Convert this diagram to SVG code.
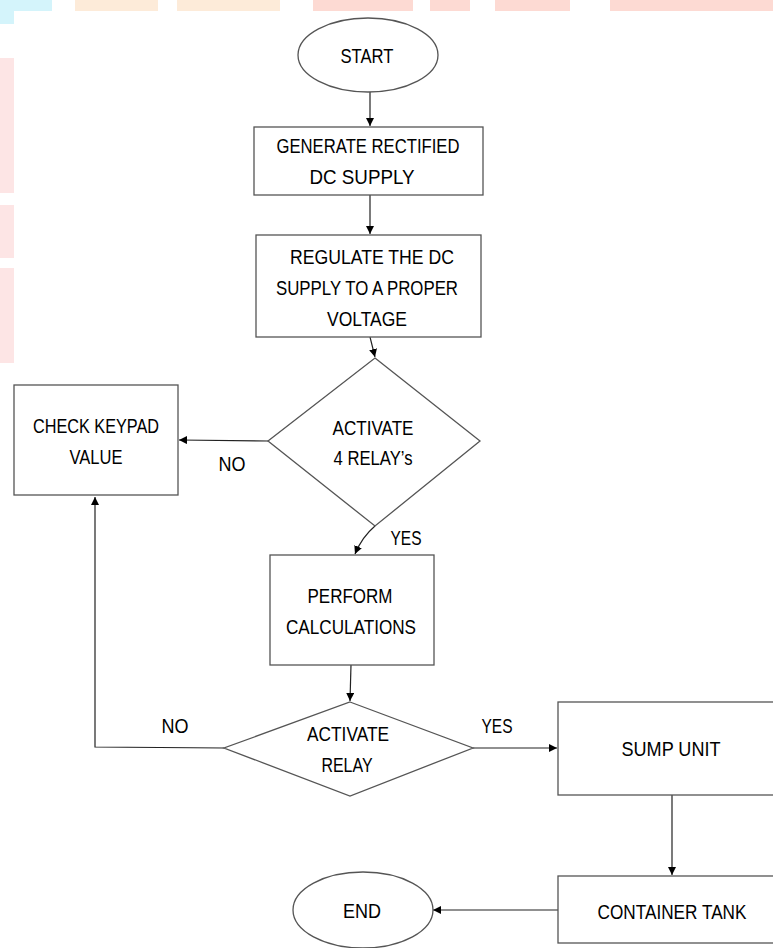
<svg xmlns="http://www.w3.org/2000/svg" width="773" height="948" viewBox="0 0 773 948">
<defs>
<marker id="ah" viewBox="0 0 10 10" refX="10" refY="5" markerWidth="8" markerHeight="8" markerUnits="userSpaceOnUse" orient="auto">
<path d="M0,0 L10,5 L0,10 z" fill="#000"/>
</marker>
<style>
.s{fill:#fff;stroke:#555;stroke-width:1.3}
.t{font-family:"Liberation Sans",Arial,sans-serif;font-size:21px;fill:#000;text-anchor:middle}
.c{fill:none;stroke:#222;stroke-width:1.2;marker-end:url(#ah)}
</style>
</defs>
<rect width="773" height="948" fill="#fff"/>
<g id="watermark">
<rect x="0" y="0" width="52" height="11" fill="#d4f4fb"/>
<rect x="0" y="0" width="14" height="24" fill="#d4f4fb"/>
<rect x="75" y="0" width="83" height="11" fill="#fdebd9"/>
<rect x="177" y="0" width="103" height="11" fill="#fdebd9"/>
<rect x="313" y="0" width="100" height="11" fill="#fddad3"/>
<rect x="430" y="0" width="40" height="11" fill="#fddad3"/>
<rect x="495" y="0" width="75" height="11" fill="#fddad3"/>
<rect x="610" y="0" width="163" height="11" fill="#fddad3"/>
<rect x="0" y="58" width="14" height="135" fill="#fde5e5"/>
<rect x="0" y="205" width="14" height="53" fill="#fde5e5"/>
<rect x="0" y="268" width="14" height="95" fill="#fde5e5"/>
</g>
<g id="connectors">
<line class="c" x1="370" y1="92" x2="370" y2="126"/>
<line class="c" x1="370" y1="195" x2="370" y2="234"/>
<line class="c" x1="370" y1="337" x2="375" y2="357"/>
<line class="c" x1="268" y1="441" x2="179" y2="440"/>
<path class="c" d="M375,526 Q362,537 355,554"/>
<line class="c" x1="351" y1="665" x2="350" y2="701"/>
<line class="c" x1="473" y1="748" x2="557" y2="748"/>
<polyline class="c" points="224,748 95,747 95,497"/>
<line class="c" x1="672" y1="795" x2="672" y2="875"/>
<line class="c" x1="558" y1="910" x2="433" y2="910"/>
<text class="t" x="232" y="471" textLength="27" lengthAdjust="spacingAndGlyphs">NO</text>
<text class="t" x="406" y="545" textLength="31" lengthAdjust="spacingAndGlyphs">YES</text>
<text class="t" x="497" y="733" textLength="31" lengthAdjust="spacingAndGlyphs">YES</text>
<text class="t" x="175" y="733" textLength="27" lengthAdjust="spacingAndGlyphs">NO</text>
</g>
<g id="start">
<ellipse class="s" cx="368" cy="55" rx="70" ry="37"/>
<text class="t" x="367" y="63" textLength="53" lengthAdjust="spacingAndGlyphs">START</text>
</g>
<g id="generate">
<rect class="s" x="254" y="127" width="229" height="68"/>
<text class="t" x="368" y="153" textLength="183" lengthAdjust="spacingAndGlyphs">GENERATE RECTIFIED</text>
<text class="t" x="362" y="184" textLength="105" lengthAdjust="spacingAndGlyphs">DC SUPPLY</text>
</g>
<g id="regulate">
<rect class="s" x="256" y="235" width="225" height="102"/>
<text class="t" x="372" y="264" textLength="164" lengthAdjust="spacingAndGlyphs">REGULATE THE DC</text>
<text class="t" x="367" y="295" textLength="182" lengthAdjust="spacingAndGlyphs">SUPPLY TO A PROPER</text>
<text class="t" x="367" y="326" textLength="80" lengthAdjust="spacingAndGlyphs">VOLTAGE</text>
</g>
<g id="decision1">
<polygon class="s" points="375,358 480,441 375,526 268,441"/>
<text class="t" x="373" y="435" textLength="81" lengthAdjust="spacingAndGlyphs">ACTIVATE</text>
<text class="t" x="373" y="465" textLength="79" lengthAdjust="spacingAndGlyphs">4 RELAY’s</text>
</g>
<g id="check">
<rect class="s" x="14" y="385" width="164" height="110"/>
<text class="t" x="96" y="433" textLength="126" lengthAdjust="spacingAndGlyphs">CHECK KEYPAD</text>
<text class="t" x="96" y="464" textLength="53" lengthAdjust="spacingAndGlyphs">VALUE</text>
</g>
<g id="perform">
<rect class="s" x="270" y="555" width="164" height="110"/>
<text class="t" x="350" y="603" textLength="85" lengthAdjust="spacingAndGlyphs">PERFORM</text>
<text class="t" x="351" y="634" textLength="130" lengthAdjust="spacingAndGlyphs">CALCULATIONS</text>
</g>
<g id="decision2">
<polygon class="s" points="350,702 473,748 350,796 224,748"/>
<text class="t" x="348" y="741" textLength="82" lengthAdjust="spacingAndGlyphs">ACTIVATE</text>
<text class="t" x="347" y="772" textLength="51" lengthAdjust="spacingAndGlyphs">RELAY</text>
</g>
<g id="sump">
<rect class="s" x="558" y="702" width="220" height="93"/>
<text class="t" x="671" y="756" textLength="99" lengthAdjust="spacingAndGlyphs">SUMP UNIT</text>
</g>
<g id="container">
<rect class="s" x="558" y="876" width="220" height="67"/>
<text class="t" x="672" y="919" textLength="149" lengthAdjust="spacingAndGlyphs">CONTAINER TANK</text>
</g>
<g id="end">
<ellipse class="s" cx="363" cy="910" rx="70" ry="38"/>
<text class="t" x="362" y="918" textLength="38" lengthAdjust="spacingAndGlyphs">END</text>
</g>
</svg>
